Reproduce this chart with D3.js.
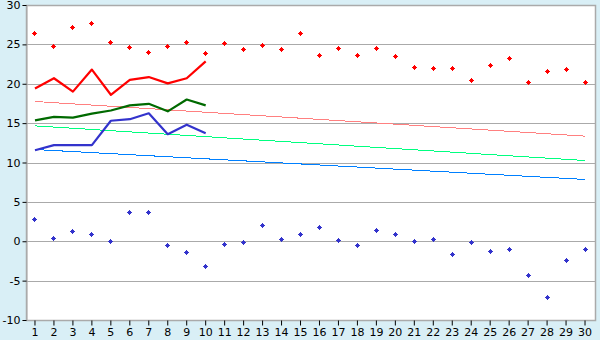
<!DOCTYPE html>
<html>
<head>
<meta charset="utf-8">
<script src="https://cdnjs.cloudflare.com/ajax/libs/d3/7.8.5/d3.min.js"></script>
<style>
  html, body { margin: 0; padding: 0; background: #d9eff6; }
  svg { display: block; }
  text { font-family: "DejaVu Sans", Verdana, sans-serif; font-size: 11px; fill: #000; }
</style>
</head>
<body>
<svg id="chart"></svg>
<script>
const days = d3.range(1, 31);

// daily max / min (markers)
const maxTemps = [26.4, 24.75, 27.2, 27.7, 25.2, 24.6, 24.0, 24.75, 25.25, 23.9,
  25.1, 24.4, 24.9, 24.4, 26.4, 23.6, 24.5, 23.6, 24.5, 23.5,
  22.1, 21.95, 21.95, 20.45, 22.35, 23.25, 20.2, 21.6, 21.85, 20.2];
const minTemps = [2.8, 0.4, 1.25, 0.9, 0.0, 3.65, 3.65, -0.5, -1.4, -3.2,
  -0.4, -0.1, 2.0, 0.25, 0.9, 1.75, 0.1, -0.5, 1.4, 0.9,
  0.0, 0.25, -1.65, -0.15, -1.25, -1.0, -4.3, -7.1, -2.4, -1.0];

// first 10 days lines
const lineRed = [19.4, 20.7, 19.0, 21.8, 18.6, 20.5, 20.85, 20.05, 20.7, 22.85];
const lineGreen = [15.35, 15.8, 15.7, 16.2, 16.6, 17.25, 17.45, 16.5, 18.0, 17.25];
const lineBlue = [11.55, 12.2, 12.2, 12.2, 15.3, 15.5, 16.25, 13.6, 14.8, 13.7];

// straight reference lines, value at day 1 and day 30
const trendDays = [1, 30];
const trendPink = [17.75, 13.35];
const trendLightGreen = [14.65, 10.25];
const trendLightBlue = [11.65, 7.85];

const yTicks = [-10, -5, 0, 5, 10, 15, 20, 25, 30];

const width = 600, height = 340;
const mLeft = 26, mRight = 595, mTop = 5, mBottom = 320;

const svg = d3.select('#chart').attr('width', width).attr('height', height);

const x = d3.scaleBand().domain(days).range([mLeft - 0.5, mRight - 0.5]);
const cx = d => x(d) + x.bandwidth() / 2;
const y = d3.scaleLinear().domain([-10, 30]).range([mBottom, mTop]);

svg.append('rect')
  .attr('x', mLeft).attr('y', mTop)
  .attr('width', mRight - mLeft).attr('height', mBottom - mTop)
  .attr('fill', '#fff');

// grid
svg.append('g').selectAll('line')
  .data(yTicks.slice(1, -1))
  .enter().append('line')
  .attr('x1', mLeft).attr('x2', mRight)
  .attr('y1', d => Math.round(y(d)) + 0.5).attr('y2', d => Math.round(y(d)) + 0.5)
  .attr('stroke', '#aaa').attr('stroke-width', 1);

// frame
svg.append('rect')
  .attr('x', mLeft + 0.5).attr('y', mTop + 0.5)
  .attr('width', mRight - mLeft).attr('height', mBottom - mTop)
  .attr('fill', 'none').attr('stroke', '#aaa').attr('stroke-width', 1.5);

// y axis
const yAxis = d3.axisLeft(y).tickValues(yTicks).tickSize(4).tickPadding(2)
  .tickFormat(d => d < 0 ? '-' + Math.abs(d) : d);
const yg = svg.append('g').attr('transform', `translate(${mLeft + 0.5},0)`).call(yAxis);
yg.select('.domain').attr('stroke', '#aaa');
yg.selectAll('.tick line').attr('stroke', '#000');
yg.selectAll('text').attr('font-size', 11).attr('font-family', '"DejaVu Sans", Verdana, sans-serif');

// x axis
const xAxis = d3.axisBottom(x).tickSize(5).tickPadding(3);
const xg = svg.append('g').attr('transform', `translate(0,${mBottom + 0.5})`).call(xAxis);
xg.select('.domain').remove();
xg.selectAll('.tick line').attr('stroke', '#000');
xg.selectAll('text').attr('font-size', 11).attr('font-family', '"DejaVu Sans", Verdana, sans-serif');

// trend lines
const trendLine = d3.line().x(d => cx(d[0])).y(d => y(d[1]));
[[trendPink, '#ff8080'], [trendLightGreen, '#00ff80'], [trendLightBlue, '#0080ff']]
  .forEach(([vals, col]) => {
    svg.append('path')
      .datum(trendDays.map((d, i) => [d, vals[i]]))
      .attr('d', trendLine)
      .attr('fill', 'none').attr('stroke', col).attr('stroke-width', 1)
      .attr('shape-rendering', 'crispEdges');
  });

// daily lines
[[lineRed, '#ff0000'], [lineGreen, '#006a00'], [lineBlue, '#3333cc']]
  .forEach(([vals, col]) => {
    svg.append('path')
      .datum(vals.map((v, i) => [days[i], v]))
      .attr('d', trendLine)
      .attr('fill', 'none').attr('stroke', col).attr('stroke-width', 2.2)
      .attr('stroke-linejoin', 'round');
  });

// markers (5px pixel diamond)
const plus = 'M-0.5,-2.5h1v1h1v1h1v1h-1v1h-1v1h-1v-1h-1v-1h-1v-1h1v-1h1z';
[[maxTemps, '#ff0000'], [minTemps, '#3333cc']].forEach(([vals, col]) => {
  svg.append('g').selectAll('path')
    .data(vals.map((v, i) => [days[i], v]))
    .enter().append('path')
    .attr('d', plus)
    .attr('transform', d => `translate(${Math.floor(cx(d[0])) + 0.5},${Math.floor(y(d[1])) + 0.5})`)
    .attr('fill', col)
    .attr('shape-rendering', 'crispEdges');
});
</script>
</body>
</html>
